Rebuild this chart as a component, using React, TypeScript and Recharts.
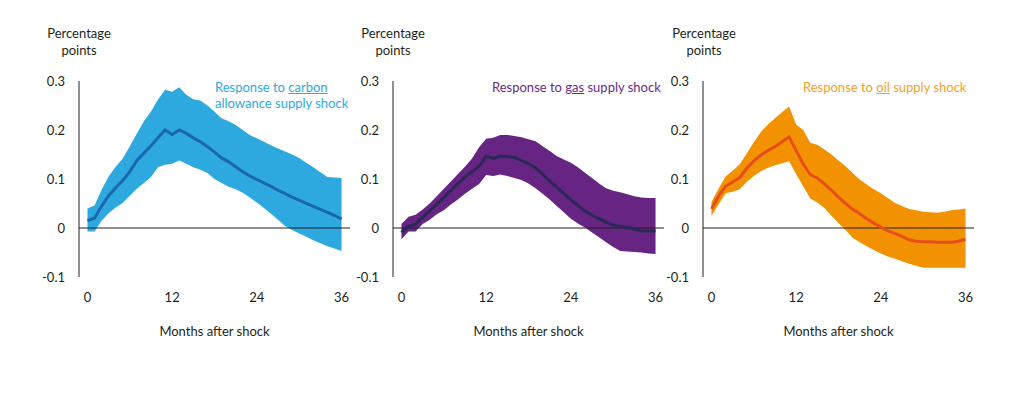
import React from 'react';
import { ComposedChart, Area, Line, XAxis, YAxis, ReferenceLine, Label } from 'recharts';

const months = [0,1,2,3,4,5,6,7,8,9,10,11,12,13,14,15,16,17,18,19,20,21,22,23,24,25,26,27,28,29,30,31,32,33,34,35,36];
const xTicks = [0, 12, 24, 36];
const yTicks = [-0.1, 0, 0.1, 0.2, 0.3];

const carbonMean = [0.015,0.020,0.045,0.066,0.082,0.097,0.115,0.138,0.153,0.168,0.184,0.200,0.191,0.200,0.193,0.184,0.176,0.166,0.155,0.143,0.135,0.125,0.115,0.106,0.099,0.092,0.085,0.077,0.070,0.063,0.057,0.050,0.044,0.038,0.032,0.026,0.018];
const carbonUpper = [0.040,0.046,0.078,0.105,0.125,0.142,0.167,0.193,0.218,0.238,0.262,0.282,0.278,0.287,0.272,0.263,0.260,0.250,0.237,0.224,0.218,0.210,0.200,0.190,0.183,0.176,0.169,0.162,0.156,0.150,0.143,0.133,0.124,0.114,0.104,0.103,0.102];
const carbonLower = [-0.007,-0.007,0.015,0.030,0.042,0.051,0.066,0.080,0.092,0.104,0.124,0.129,0.131,0.138,0.131,0.124,0.119,0.112,0.100,0.092,0.084,0.079,0.072,0.062,0.052,0.041,0.029,0.017,0.004,-0.004,-0.011,-0.018,-0.025,-0.031,-0.037,-0.042,-0.047];

const gasMean = [-0.009,0.004,0.008,0.022,0.035,0.048,0.062,0.077,0.091,0.104,0.115,0.126,0.147,0.142,0.147,0.146,0.144,0.138,0.131,0.123,0.110,0.096,0.083,0.070,0.058,0.046,0.035,0.026,0.019,0.012,0.006,0.003,0.001,-0.002,-0.006,-0.006,-0.006];
const gasUpper = [0.008,0.023,0.027,0.038,0.050,0.065,0.080,0.095,0.110,0.125,0.142,0.165,0.182,0.184,0.190,0.190,0.188,0.185,0.181,0.177,0.167,0.157,0.147,0.140,0.133,0.124,0.113,0.102,0.091,0.081,0.076,0.073,0.069,0.065,0.062,0.061,0.061];
const gasLower = [-0.023,-0.007,-0.007,0.008,0.017,0.028,0.036,0.048,0.058,0.070,0.080,0.090,0.108,0.106,0.109,0.106,0.102,0.098,0.091,0.081,0.070,0.058,0.045,0.032,0.019,0.009,0.001,-0.009,-0.019,-0.029,-0.039,-0.047,-0.048,-0.049,-0.050,-0.052,-0.053];

const oilMean = [0.039,0.065,0.085,0.094,0.103,0.122,0.137,0.149,0.158,0.166,0.176,0.186,0.158,0.130,0.109,0.102,0.090,0.077,0.063,0.050,0.038,0.029,0.019,0.010,0.002,-0.006,-0.011,-0.017,-0.024,-0.027,-0.028,-0.028,-0.029,-0.029,-0.029,-0.027,-0.023];
const oilUpper = [0.053,0.080,0.105,0.117,0.130,0.152,0.175,0.196,0.211,0.224,0.236,0.248,0.211,0.200,0.174,0.170,0.160,0.150,0.138,0.126,0.112,0.099,0.089,0.079,0.071,0.061,0.051,0.045,0.039,0.036,0.033,0.032,0.031,0.033,0.036,0.038,0.040];
const oilLower = [0.025,0.048,0.071,0.074,0.079,0.094,0.106,0.116,0.123,0.128,0.132,0.136,0.110,0.085,0.060,0.052,0.041,0.025,0.010,-0.004,-0.020,-0.029,-0.037,-0.045,-0.052,-0.058,-0.063,-0.068,-0.073,-0.077,-0.081,-0.081,-0.081,-0.081,-0.081,-0.081,-0.081];

const FONT = 'Lato, "Open Sans", sans-serif';
const INK = '#231f20';

function build(mean: number[], lo: number[], hi: number[]) {
  return months.map((m, i) => ({ m, band: [lo[i], hi[i]], mean: mean[i] }));
}

type PanelProps = {
  left: number;
  data: { m: number; band: number[]; mean: number }[];
  bandColor: string;
  lineColor: string;
};

function Panel({ left, data, bandColor, lineColor }: PanelProps) {
  return (
    <div style={{ position: 'absolute', left, top: 0 }}>
      <ComposedChart
        width={352}
        height={393}
        data={data}
        margin={{ top: 81, right: 2, bottom: 56, left: 0 }}
        style={{ fontFamily: FONT }}
      >
        <XAxis
          dataKey="m"
          type="number"
          domain={[-1.2, 37.2]}
          ticks={xTicks}
          axisLine={false}
          tickLine={false}
          tickSize={6}
          tickMargin={10}
          height={60}
          tick={{ fill: INK, fontSize: 13, fontFamily: FONT }}
        >
          <Label value="Months after shock" position="insideBottom" offset={1} fill={INK} fontSize={13} fontFamily={FONT} />
        </XAxis>
        <YAxis
          type="number"
          domain={[-0.1, 0.3]}
          ticks={yTicks}
          width={79}
          tickLine={false}
          tickSize={6}
          tickMargin={8}
          axisLine={{ stroke: INK, strokeWidth: 1 }}
          tickFormatter={(v: number) => (v === 0 ? '0' : v.toFixed(1))}
          tick={{ fill: INK, fontSize: 13, fontFamily: FONT }}
        />
        <Area
          dataKey="band"
          type="linear"
          stroke="none"
          fill={bandColor}
          fillOpacity={1}
          isAnimationActive={false}
          activeDot={false}
        />
        <ReferenceLine y={0} stroke={INK} strokeWidth={1} />
        <Line
          dataKey="mean"
          type="linear"
          stroke={lineColor}
          strokeWidth={3}
          dot={false}
          isAnimationActive={false}
          activeDot={false}
        />
      </ComposedChart>
    </div>
  );
}

const unitStyle: React.CSSProperties = {
  position: 'absolute',
  top: 25,
  width: 100,
  textAlign: 'center',
  fontSize: 13,
  lineHeight: '17px',
  color: INK,
  fontFamily: FONT,
};

const titleStyle: React.CSSProperties = {
  position: 'absolute',
  top: 79,
  fontSize: 13,
  lineHeight: '16px',
  fontFamily: FONT,
  whiteSpace: 'nowrap',
};

export default function App() {
  return (
    <div style={{ position: 'absolute', left: 0, top: 0, width: 1024, height: 393, background: '#fff', overflow: 'hidden', fontFamily: FONT }}>
      <Panel left={0} data={build(carbonMean, carbonLower, carbonUpper)} bandColor="#2ea9e0" lineColor="#1a67ad" />
      <Panel left={314} data={build(gasMean, gasLower, gasUpper)} bandColor="#662483" lineColor="#2b2757" />
      <Panel left={624} data={build(oilMean, oilLower, oilUpper)} bandColor="#f39200" lineColor="#e84e1b" />

      <div style={{ ...unitStyle, left: 29 }}>Percentage<br />points</div>
      <div style={{ ...unitStyle, left: 343 }}>Percentage<br />points</div>
      <div style={{ ...unitStyle, left: 654 }}>Percentage<br />points</div>

      <div style={{ ...titleStyle, left: 215, color: '#2ea9e0' }}>
        Response to <u>carbon</u><br />allowance supply shock
      </div>
      <div style={{ ...titleStyle, left: 492, color: '#6a2a88' }}>
        Response to <u>gas</u> supply shock
      </div>
      <div style={{ ...titleStyle, left: 803, color: '#f5a12a' }}>
        Response to <u>oil</u> supply shock
      </div>
    </div>
  );
}
